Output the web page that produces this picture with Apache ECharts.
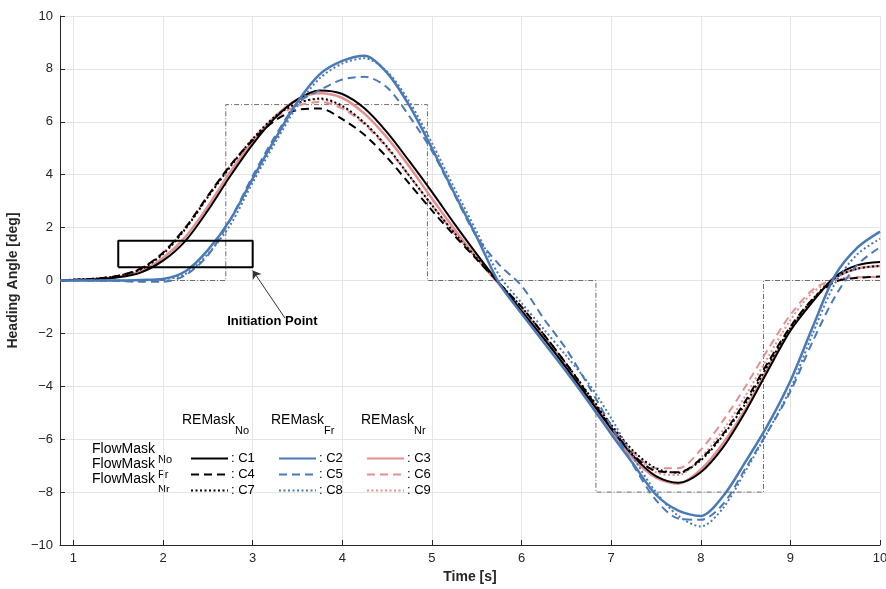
<!DOCTYPE html>
<html><head><meta charset="utf-8">
<script src="https://cdn.jsdelivr.net/npm/echarts@6/dist/echarts.min.js"></script>
<style>html,body{margin:0;padding:0;background:#fff}#c{width:886px;height:589px}</style>
</head><body><div id="c"></div>
<script>
// ---- data ----
const timeS = [0.85,1,1.25,1.5,1.75,2,2.25,2.5,2.75,3,3.25,3.5,3.75,4,4.25,4.5,4.75,5,5.25,5.5,5.75,6,6.25,6.5,6.75,7,7.25,7.5,7.75,8,8.25,8.5,8.75,9,9.25,9.5,9.75,10];
const C1 = [0,0.02,0.05,0.12,0.3,0.75,1.5,2.65,3.95,5.15,6.15,6.85,7.18,7.05,6.5,5.6,4.5,3.35,2.15,1.0,-0.1,-1.15,-2.2,-3.3,-4.45,-5.6,-6.65,-7.4,-7.65,-7.25,-6.3,-4.95,-3.4,-1.9,-0.8,0.15,0.58,0.7];
const C2 = [0,0,0,0,0.02,0.06,0.35,1.15,2.3,3.85,5.35,6.75,7.8,8.3,8.5,7.85,6.6,5.0,3.3,1.65,-0.1,-1.25,-2.35,-3.45,-4.6,-5.8,-6.95,-8.1,-8.7,-8.9,-8.15,-6.85,-5.45,-3.8,-1.75,0.2,1.25,1.85];
const C3 = [0,0.02,0.06,0.14,0.35,0.85,1.65,2.8,4.1,5.25,6.2,6.85,7.08,6.9,6.3,5.4,4.3,3.1,1.95,0.85,-0.15,-1.15,-2.2,-3.3,-4.5,-5.7,-6.75,-7.45,-7.68,-7.15,-6.15,-4.85,-3.3,-1.85,-0.75,0.1,0.45,0.55];
const C4 = [0,0.03,0.07,0.18,0.45,1.05,2.0,3.2,4.35,5.3,6.05,6.45,6.5,6.1,5.5,4.65,3.65,2.65,1.7,0.8,-0.1,-1.0,-2.05,-3.15,-4.35,-5.55,-6.6,-7.2,-7.25,-6.75,-5.8,-4.55,-3.1,-1.75,-0.7,-0.05,0.1,0.15];
const C5 = [0,0,0,-0.02,-0.05,-0.05,0.2,0.95,2.3,3.95,5.45,6.7,7.2,7.6,7.7,7.3,6.2,4.9,3.25,1.65,0.6,-0.2,-1.45,-2.6,-4.0,-5.5,-7.0,-8.3,-9.0,-9.05,-8.45,-7.1,-5.7,-4.2,-2.3,-0.6,0.6,1.26];
const C6 = [0,0.03,0.07,0.18,0.45,1.05,2.0,3.2,4.35,5.35,6.15,6.6,6.75,6.5,5.9,5.0,3.95,2.85,1.8,0.85,-0.1,-1.05,-2.1,-3.2,-4.35,-5.5,-6.5,-7.1,-7.1,-6.4,-5.3,-4.0,-2.6,-1.3,-0.35,0.05,0.12,0.13];
const C7 = [0,0.03,0.07,0.17,0.42,1.0,1.95,3.15,4.3,5.35,6.2,6.7,6.88,6.6,5.95,5.05,3.95,2.85,1.8,0.85,-0.1,-1.0,-2.05,-3.15,-4.3,-5.45,-6.45,-7.1,-7.27,-6.8,-5.85,-4.65,-3.2,-1.8,-0.7,0.1,0.45,0.55];
const C8 = [0,0,0,0,0.01,0.04,0.25,1.0,2.1,3.7,5.2,6.6,7.65,8.2,8.4,7.9,6.75,5.2,3.5,1.85,0.2,-0.85,-1.85,-2.85,-3.9,-5.2,-6.7,-8.0,-8.9,-9.3,-8.6,-7.2,-5.7,-4.1,-2.0,-0.1,1.0,1.58];
const C9 = [0,0.03,0.07,0.18,0.45,1.05,2.0,3.2,4.35,5.35,6.2,6.7,6.85,6.55,5.95,5.05,3.95,2.85,1.8,0.85,-0.1,-1.05,-2.1,-3.2,-4.4,-5.55,-6.6,-7.25,-7.35,-6.7,-5.65,-4.35,-2.9,-1.5,-0.45,0.0,0.12,0.15];
const stepX = [0.85,2.7,2.7,4.95,4.95,6.83,6.83,8.7,8.7,10];
const stepY = [0,0,6.65,6.65,0,0,-8,-8,0,0];
const boxX = [1.5,3,3,1.5,1.5];
const boxY = [0.5,0.5,1.5,1.5,0.5];
const arrowFrom = [3.36,-1.42];
const arrowTo = [3.0,0.38];
const noteAt = [3.22,-1.55];
const xTicks = [1,2,3,4,5,6,7,8,9,10];
const colHeads = ['No','Fr','Nr'];
const rowHeads = ['No','Fr','Nr'];

// ---- chart ----
const BLUE = '#4a79b7', PINK = '#e49090', BLACK = '#000000';
const FONT = '"Liberation Sans", Arial, sans-serif';
const pair = (xs, ys) => xs.map((x, i) => [x, ys[i]]);
function mk(name, ys, color, type, width, z) {
  return { name, type: 'line', data: pair(timeS, ys), smooth: 0.3, symbol: 'none',
    lineStyle: { color, type, width }, itemStyle: { color }, z: z, silent: true };
}
const DASH = [8, 5], DOT = [2, 2.5];
const series = [
  { name: 'step', type: 'line', data: pair(stepX, stepY), symbol: 'none', silent: true,
    lineStyle: { color: '#6e6e6e', width: 1, type: [5, 2, 1, 2] }, z: 1 },
  mk('C6', C6, PINK, DASH, 2, 2), mk('C9', C9, PINK, DOT, 2, 2), mk('C3', C3, PINK, 'solid', 2.5, 3),
  mk('C4', C4, BLACK, DASH, 2, 4), mk('C7', C7, BLACK, DOT, 2, 4), mk('C1', C1, BLACK, 'solid', 2, 5),
  mk('C5', C5, BLUE, DASH, 2, 6), mk('C8', C8, BLUE, DOT, 2, 6), mk('C2', C2, BLUE, 'solid', 2.5, 7),
  { name: 'box', type: 'line', data: pair(boxX, boxY), symbol: 'none', silent: true,
    lineStyle: { color: '#000', width: 2 }, z: 10,
    markLine: { silent: true, symbol: ['none', 'arrow'], symbolSize: 8, animation: false,
      lineStyle: { color: '#333', width: 1, type: 'solid' }, label: { show: false },
      data: [[{ coord: arrowFrom }, { coord: arrowTo }]] },
    markPoint: { silent: true, symbol: 'circle', symbolSize: 1, itemStyle: { color: 'rgba(0,0,0,0)' },
      label: { show: true, position: 'inside', formatter: 'Initiation Point', color: '#000',
        fontSize: 13, fontWeight: 'bold', fontFamily: FONT },
      data: [{ coord: noteAt }] } }
];
function legendCol(left, names) {
  return { orient: 'vertical', left, top: 452, padding: 0, itemWidth: 37, itemHeight: 12, itemGap: 3,
    data: names, formatter: n => ': ' + n, selectedMode: false,
    itemStyle: { opacity: 0 },
    textStyle: { fontSize: 13, color: '#000', fontFamily: FONT, padding: [0, 0, 0, -2] } };
}
const graphic = [];
const headLeft = [182, 271, 361];
colHeads.forEach((s, i) => {
  graphic.push({ type: 'text', left: headLeft[i], top: 413, style: { text: 'REMask', font: '14px ' + FONT, fill: '#000' } });
  graphic.push({ type: 'text', left: headLeft[i] + 53, top: 425, style: { text: s, font: '11px ' + FONT, fill: '#000' } });
});
rowHeads.forEach((s, i) => {
  graphic.push({ type: 'text', left: 92, top: 442 + 15 * i, style: { text: 'FlowMask', font: '14px ' + FONT, fill: '#000' } });
  graphic.push({ type: 'text', left: 158, top: 454 + 15 * i, style: { text: s, font: '11px ' + FONT, fill: '#000' } });
});
const minusFmt = v => String(v).replace('-', '\u2212');

const chart = echarts.init(document.getElementById('c'));
chart.setOption({
  animation: false,
  backgroundColor: '#fff',
  grid: { left: 60, right: 6, top: 16, bottom: 44, containLabel: false, outerBoundsMode: 'none' },
  xAxis: { type: 'value', min: 0.85, max: 10,
    name: 'Time [s]', nameLocation: 'middle', nameGap: 25,
    nameTextStyle: { fontSize: 14, fontWeight: 'bold', color: '#262626', fontFamily: FONT },
    axisLine: { onZero: false, lineStyle: { color: '#262626', width: 1 } },
    axisTick: { inside: true, length: 5, customValues: xTicks, lineStyle: { color: '#262626' } },
    axisLabel: { customValues: xTicks, fontSize: 13, color: '#262626', margin: 7, fontFamily: FONT },
    splitLine: { show: true, lineStyle: { color: '#e5e5e5', width: 1 } } },
  yAxis: { type: 'value', min: -10, max: 10, interval: 2,
    name: 'Heading Angle [deg]', nameLocation: 'middle', nameGap: 32,
    nameTextStyle: { fontSize: 14, fontWeight: 'bold', color: '#262626', fontFamily: FONT },
    axisLine: { show: true, onZero: false, lineStyle: { color: '#262626', width: 1 } },
    axisTick: { show: true, inside: true, length: 5, lineStyle: { color: '#262626' } },
    axisLabel: { fontSize: 13, color: '#262626', margin: 7, fontFamily: FONT, formatter: minusFmt },
    splitLine: { show: true, lineStyle: { color: '#e5e5e5', width: 1 } } },
  legend: [legendCol(190, ['C1', 'C4', 'C7']), legendCol(278, ['C2', 'C5', 'C8']), legendCol(366, ['C3', 'C6', 'C9'])],
  graphic,
  series
});
</script></body></html>
